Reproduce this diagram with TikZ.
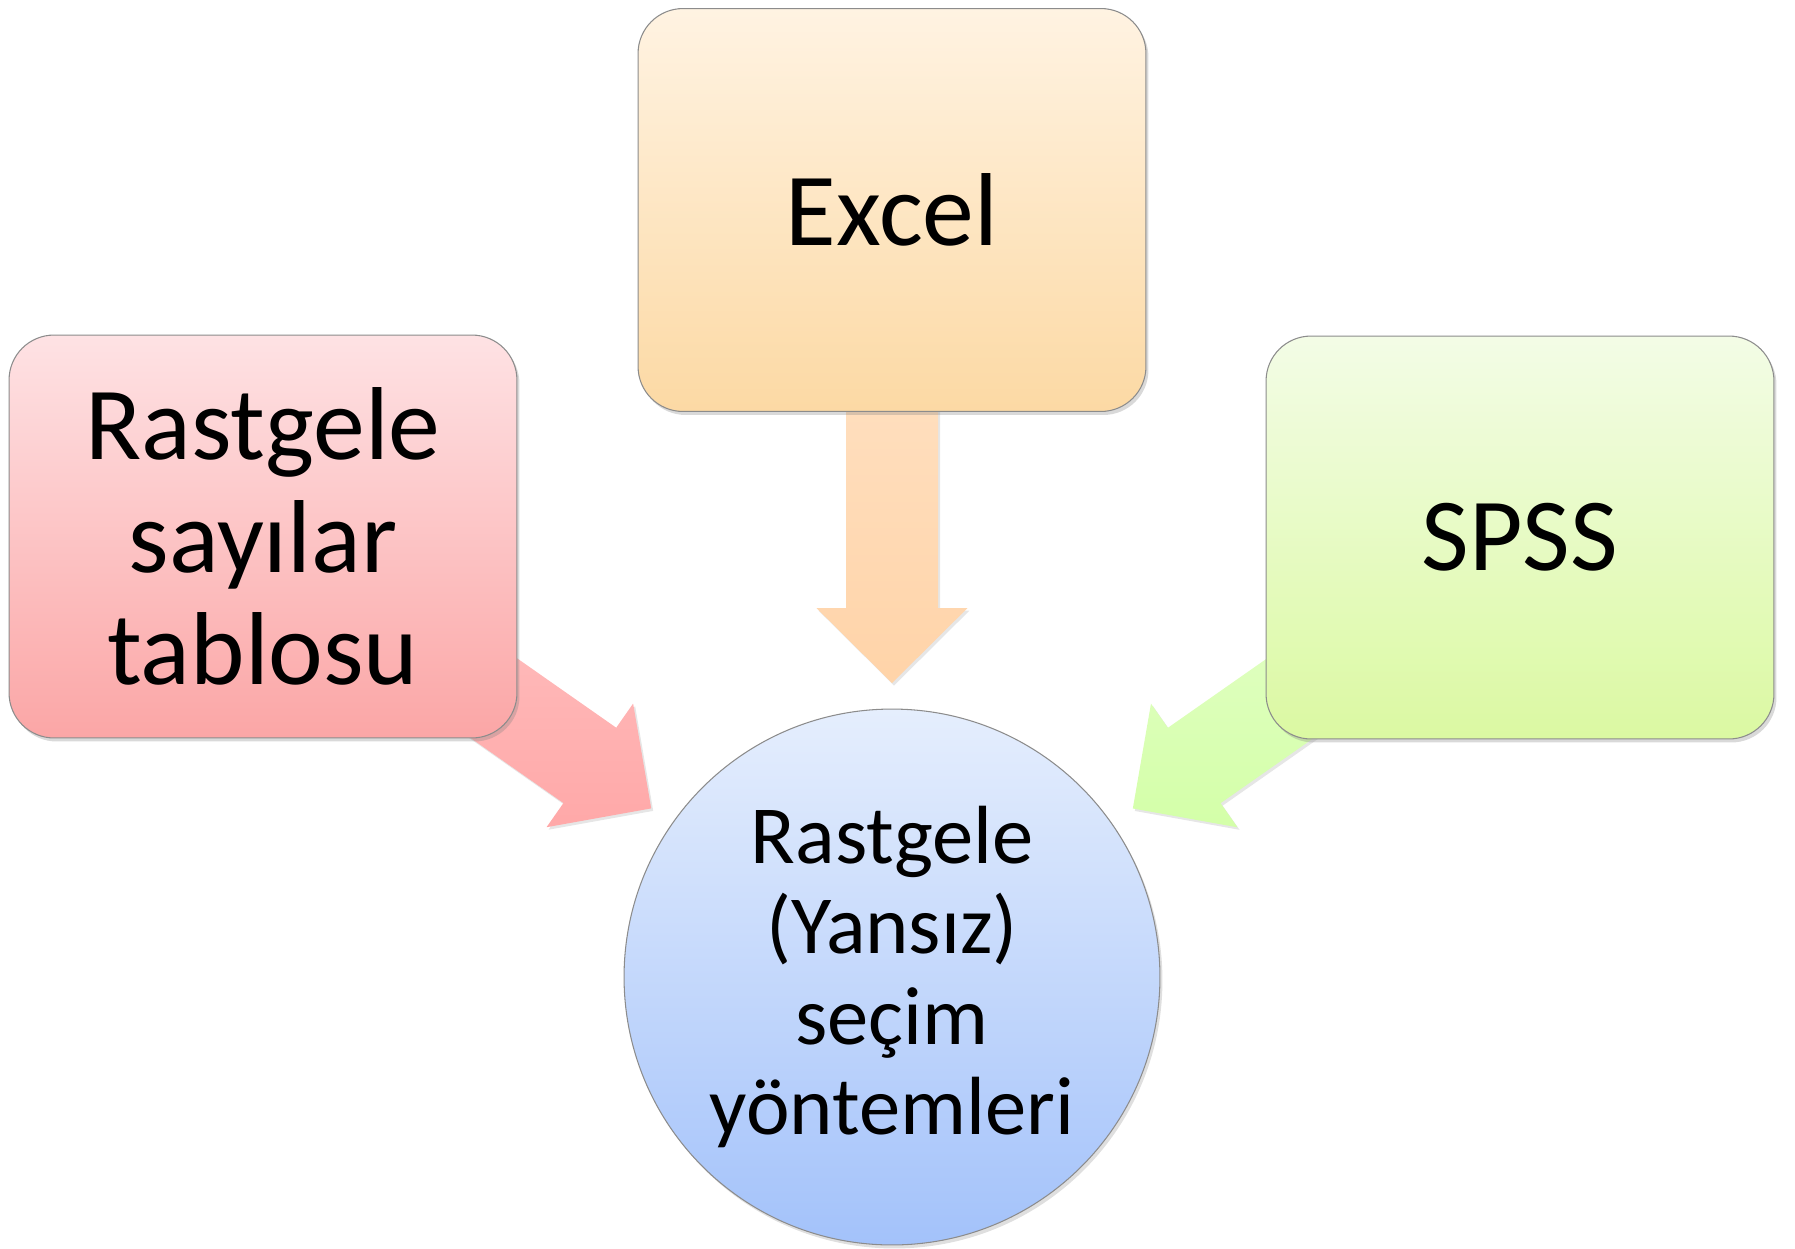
\documentclass[tikz,border=0pt]{standalone}
\usepackage{fontspec}
\setmainfont{Carlito}
\usepackage{xcolor}
\usepackage{tikz}
\usetikzlibrary{calc,shadows,backgrounds}

\definecolor{redtop}{HTML}{FEE2E4}
\definecolor{redbot}{HTML}{FBA6A6}
\definecolor{oratop}{HTML}{FFF3E2}
\definecolor{orabot}{HTML}{FCD9A4}
\definecolor{gretop}{HTML}{F3FCE6}
\definecolor{grebot}{HTML}{DBF9A2}
\definecolor{blutop}{HTML}{E5EEFD}
\definecolor{blubot}{HTML}{A3C2FA}

\tikzset{
  kutu/.style={rectangle,rounded corners=0.9cm,draw=gray!90,line width=0.6pt,
    minimum width=10.16cm,minimum height=8.06cm,align=center,
    font=\fontsize{59}{64}\selectfont,
    drop shadow={opacity=0.3,shadow xshift=0.05cm,shadow yshift=-0.07cm}},
  daire/.style={circle,draw=gray!90,line width=0.6pt,minimum size=10.72cm,
    align=center,font=\fontsize{47}{51.3}\selectfont,
    top color=blutop,bottom color=blubot,
    drop shadow={opacity=0.25,shadow xshift=0.05cm,shadow yshift=-0.07cm}},
  okyol/.style={drop shadow={opacity=0.2,shadow xshift=0.04cm,shadow yshift=-0.05cm}}
}

% block arrow from the centre of #1 towards #2, shaded #3 -> #4
\newcommand{\blokok}[4]{%
  \coordinate (uc) at ($(#2)!5.88cm!(#1)$);
  \coordinate (kb) at ($(#2)!7.38cm!(#1)$);
  \path[okyol,top color=#3,bottom color=#4]
    ($(#1)!0.92cm!90:(#2)$) -- ($(kb)!0.92cm!90:(#2)$)
    -- ($(kb)!1.51cm!90:(#2)$) -- (uc)
    -- ($(kb)!1.51cm!-90:(#2)$) -- ($(kb)!0.92cm!-90:(#2)$)
    -- ($(#1)!0.92cm!-90:(#2)$) -- cycle;
}

\begin{document}
\begin{tikzpicture}[x=0.02cm,y=-0.02cm]
  \useasboundingbox (0,0) rectangle (1795,1248);

  \node[daire] (secim) at (892,977) {Rastgele\\(Yansız)\\seçim\\yöntemleri};
  \node[kutu,top color=redtop,bottom color=redbot] (tablo) at (263,536.5) {Rastgele\\sayılar\\tablosu};
  \node[kutu,top color=oratop,bottom color=orabot] (excel) at (892,210) {Excel};
  \node[kutu,top color=gretop,bottom color=grebot] (spss) at (1520,537.5) {SPSS};

  \begin{scope}[on background layer]
    \blokok{tablo}{secim}{red!22}{red!34}
    \blokok{excel}{secim}{orange!20}{orange!34}
    \blokok{spss}{secim}{green!50!yellow!18}{green!50!yellow!34}
  \end{scope}
\end{tikzpicture}
\end{document}
